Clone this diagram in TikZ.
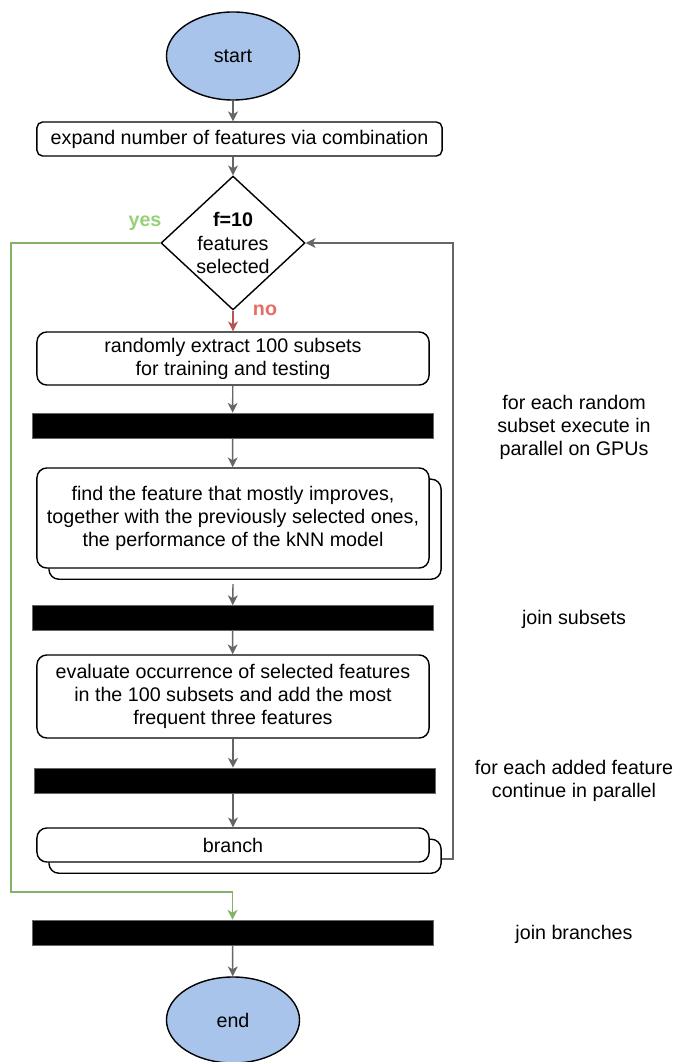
\documentclass[tikz,border=0pt]{standalone}
\usepackage{fontspec}
\setmainfont{Liberation Sans}
\usepackage{tikz}
\usetikzlibrary{positioning, shapes.geometric, arrows.meta, shadows}

\definecolor{linegray}{HTML}{666666}
\definecolor{startblue}{HTML}{A9C4EB}
\definecolor{yesgreen}{HTML}{82B366}
\definecolor{yestext}{HTML}{97D077}
\definecolor{nored}{HTML}{B85450}
\definecolor{notext}{HTML}{EA6B66}

\begin{document}
\begin{tikzpicture}[x=0.025cm, y=-0.025cm,
        every node/.style={font=\fontsize{14}{16.4}\selectfont},
        term/.style={shape=ellipse, draw=black, fill=startblue, line width=1pt, minimum width=3.325cm, minimum height=2.2cm},
        proc/.style={shape=rectangle, draw=black, fill=white, line width=1pt, rounded corners=7pt, minimum width=9.8cm, align=center, inner sep=2pt},
        multi/.style={proc, copy shadow={shadow xshift=0.3cm, shadow yshift=-0.28cm}},
        syncbar/.style={shape=rectangle, draw=linegray, fill=black, minimum width=10.025cm, minimum height=0.625cm, inner sep=0pt},
        side/.style={align=center},
        flow/.style={draw=linegray, line width=1pt, -{Stealth[length=7pt, width=7pt, inset=2pt]}}]
    \useasboundingbox (0,0) rectangle (674,1062);

        \node[term] (start) at (233,56) {start};
        \node[proc, rounded corners=4pt, minimum width=10.125cm, minimum height=0.85cm] (expand) at (239.5,139) {expand number of features via combination};
        \node[shape=diamond, draw=black, fill=white, line width=1pt, minimum width=3.6cm, minimum height=3.275cm, inner sep=0pt, align=center] (dec) at (233,243) {\textbf{f=10}\\features\\selected};
        \node[proc, minimum height=1.325cm] (extract) at (233,358.5) {randomly extract 100 subsets\\for training and testing};
        \node[syncbar] (forkA) at (232.5,425.5) {};
        \node[multi, minimum height=2.5cm] (find) at (233,518) {find the feature that mostly improves,\\together with the previously selected ones,\\the performance of the kNN model};
        \node[syncbar] (joinA) at (232.5,618) {};
        \node[proc, minimum height=2.075cm] (evaluate) at (233,696.5) {evaluate occurrence of selected features\\in the 100 subsets and add the most\\frequent three features};
        \node[syncbar] (forkB) at (235,780.5) {};
        \node[multi, minimum height=0.85cm] (branch) at (233,845) {branch};
        \node[syncbar] (joinB) at (232.5,932.5) {};
        \node[term, minimum height=2.15cm] (end) at (233,1020) {end};

        % labels on the right
        \node[side] (lblA) at (574,427) {for each random\\subset execute in\\parallel on GPUs};
        \node[side] (lblB) at (574,619) {join subsets};
        \node[side] (lblC) at (574,781) {for each added feature\\continue in parallel};
        \node[side] (lblD) at (574,934) {join branches};

        \node[text=yestext, font=\fontsize{14}{16.4}\selectfont\bfseries] (yes) at (145,223) {yes};
        \node[text=notext, font=\fontsize{14}{16.4}\selectfont\bfseries] (no) at (265,310) {no};

        \coordinate (yesturn) at (11,892);
        \coordinate (loopturn) at (453,243);

        \path [flow] (start) -- (start |- expand.north);
        \path [flow] (start |- expand.south) -- (dec);
        \path [flow, draw=nored] (dec) -- (extract);
        \path [flow] (extract) -- (forkA);
        \path [flow] (forkA) -- (find);
        \path [flow] ([yshift=-11]find.south) -- (joinA);
        \path [flow] (joinA) -- (evaluate);
        \path [flow] (evaluate) -- (forkB.north -| evaluate);
        \path [flow] (forkB.south -| branch) -- (branch);
        \path [flow, draw=yesgreen] (dec.west) -| (yesturn) -| (joinB.north);
        \path [flow] ([shift={(12,14)}]branch.east) -| (loopturn) -- (dec.east);
        \path [flow] (joinB) -- (end);
    \end{tikzpicture}
\end{document}
